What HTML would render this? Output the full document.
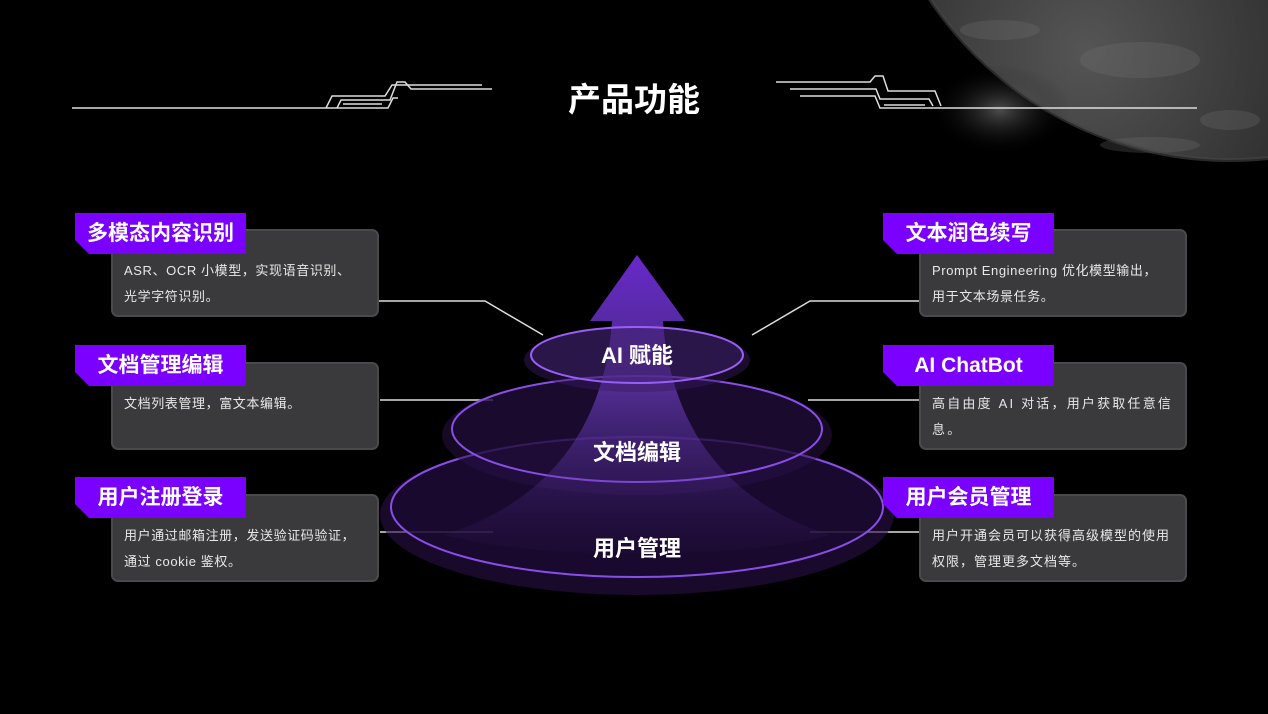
<!DOCTYPE html>
<html><head><meta charset="utf-8"><style>
*{margin:0;padding:0;box-sizing:border-box}
body{width:1268px;height:714px;background:#000;overflow:hidden;position:relative;font-family:"Liberation Sans","Noto Sans CJK SC",sans-serif;color:#fff}
.box{position:absolute;width:268px;height:88px;background:#3a3a3c;border:2px solid #4a4a4c;border-radius:7px;padding:27px 6px 0 11px;font-size:13px;line-height:26px;color:#e8e8e8;letter-spacing:0.6px;white-space:nowrap}
.tag{position:absolute;width:171px;height:41px;background:#7a00ff;clip-path:polygon(0 0,100% 0,100% 100%,14px 100%,0 27px);font-size:21px;font-weight:bold;line-height:41px;text-align:center}
.ttl{position:absolute;left:0;width:1268px;top:73px;text-align:center;font-size:33px;font-weight:bold}
.lbl{position:absolute;width:200px;left:537px;text-align:center;font-size:22px;font-weight:bold}
</style></head><body>
<svg width="1268" height="714" style="position:absolute;left:0;top:0">
<defs>
<radialGradient id="pl" cx="0.3" cy="0.85" r="0.7">
<stop offset="0" stop-color="#555"/><stop offset="0.5" stop-color="#2a2a2a"/><stop offset="1" stop-color="#111"/></radialGradient>
<radialGradient id="glow" cx="0.5" cy="0.5" r="0.5"><stop offset="0" stop-color="#999" stop-opacity="0.5"/><stop offset="1" stop-color="#000" stop-opacity="0"/></radialGradient>
<linearGradient id="ar" x1="0" y1="0" x2="0" y2="1"><stop offset="0" stop-color="#7a30f0"/><stop offset="0.45" stop-color="#7040c8" stop-opacity="0.75"/><stop offset="1" stop-color="#4a2a80" stop-opacity="0.05"/></linearGradient>
</defs>
<circle cx="1230" cy="-200" r="360" fill="url(#pl)"/>
<g fill="#777" opacity="0.25">
<ellipse cx="1140" cy="60" rx="60" ry="18"/><ellipse cx="1230" cy="120" rx="30" ry="10"/><ellipse cx="1000" cy="30" rx="40" ry="10"/><ellipse cx="1150" cy="145" rx="50" ry="8"/></g>
<circle cx="1230" cy="-200" r="360" fill="none" stroke="#444" stroke-width="4" opacity="0.6"/>
<ellipse cx="1000" cy="110" rx="70" ry="45" fill="url(#glow)"/>
<g stroke="#ddd" stroke-width="1.5" fill="none">
<path d="M72 108 H388 L393 98 H398"/>
<path d="M326 108 L332 96 H385 L392 85 H482"/>
<path d="M337 108 L341 100 H390 L397 82 H405 L411 89 H492"/>
<path d="M343 104 H382"/>
<path d="M776 82 H870 L875 76 H883 L888 91 H935 L941 106"/>
<path d="M790 89 H876 L880 99 H929 L933 106"/>
<path d="M800 96 H875 L880 108 H1197"/>
<path d="M884 105 H925"/>
<path d="M378 301 H485 L543 335"/>
<path d="M752 335 L810 301 H919"/>
<path d="M380 400 H493"/><path d="M808 400 H919"/>
<path d="M380 532 H493"/><path d="M810 532 H919"/>
</g>
<ellipse cx="637" cy="515" rx="257" ry="80" fill="#2a0f48" opacity="0.6"/>
<ellipse cx="637" cy="507" rx="246" ry="70" fill="#1a0a30" fill-opacity="0.7" stroke="#8a4ee8" stroke-width="2"/>
<ellipse cx="637" cy="435" rx="195" ry="60" fill="#2a1248" opacity="0.5"/>
<ellipse cx="637" cy="429" rx="185" ry="53" fill="#1d0c35" fill-opacity="0.6" stroke="#8a4ee8" stroke-width="2"/>
<path d="M637 255 L685 321 H663 C670 420 720 500 830 535 C740 560 540 560 444 535 C555 500 605 420 612 321 H590 Z" fill="url(#ar)" opacity="0.85"/>
<ellipse cx="637" cy="360" rx="113" ry="32" fill="#3a1a60" opacity="0.45"/>
<ellipse cx="637" cy="355" rx="106" ry="28" fill="#4a2a80" fill-opacity="0.35" stroke="#9a5ef8" stroke-width="2"/>
</svg>
<div class="ttl">产品功能</div>
<div class="lbl" style="top:338px">AI 赋能</div>
<div class="lbl" style="top:435px">文档编辑</div>
<div class="lbl" style="top:531px">用户管理</div>

<div class="box" style="left:111px;top:229px">ASR、OCR 小模型，实现语音识别、<br>光学字符识别。</div>
<div class="tag" style="left:75px;top:213px">多模态内容识别</div>
<div class="box" style="left:111px;top:362px">文档列表管理，富文本编辑。</div>
<div class="tag" style="left:75px;top:345px">文档管理编辑</div>
<div class="box" style="left:111px;top:494px">用户通过邮箱注册，发送验证码验证，<br>通过 cookie 鉴权。</div>
<div class="tag" style="left:75px;top:477px">用户注册登录</div>

<div class="box" style="left:919px;top:229px">Prompt Engineering 优化模型输出，<br>用于文本场景任务。</div>
<div class="tag" style="left:883px;top:213px">文本润色续写</div>
<div class="box" style="left:919px;top:362px;letter-spacing:2.2px">高自由度 AI 对话，用户获取任意信<br>息。</div>
<div class="tag" style="left:883px;top:345px">AI ChatBot</div>
<div class="box" style="left:919px;top:494px;letter-spacing:1px">用户开通会员可以获得高级模型的使用<br>权限，管理更多文档等。</div>
<div class="tag" style="left:883px;top:477px">用户会员管理</div>
</body></html>
